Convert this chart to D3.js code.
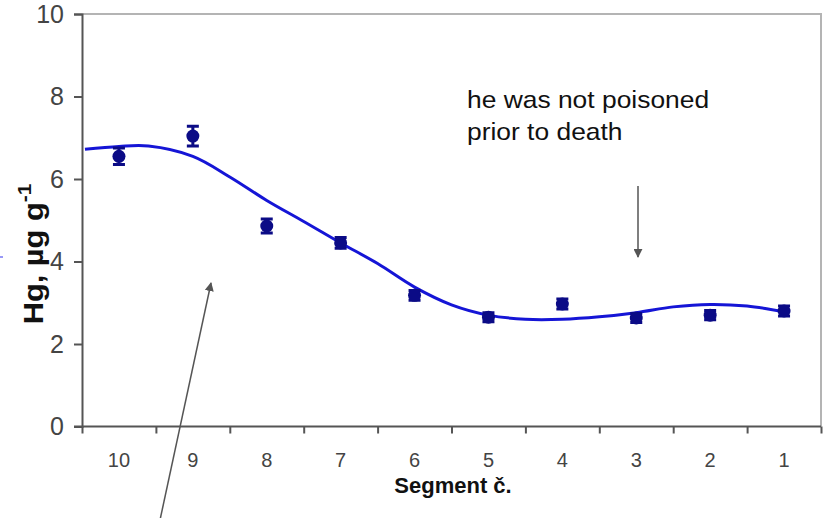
<!DOCTYPE html>
<html>
<head>
<meta charset="utf-8">
<script src="https://cdn.jsdelivr.net/npm/d3@7"></script>
<style>
  html, body { margin: 0; padding: 0; background: #fff; }
  svg { display: block; }
  text { font-family: "Liberation Sans", Arial, sans-serif; }
</style>
</head>
<body>
<svg id="chart" width="826" height="518"></svg>
<script>
// Hair segments, oldest (10) to most recent (1)
const segments = [10, 9, 8, 7, 6, 5, 4, 3, 2, 1];
// Mercury content per segment, µg/g
const hgValues = [6.55, 7.04, 4.86, 4.45, 3.18, 2.65, 2.97, 2.63, 2.70, 2.80];
// Measurement uncertainty (±)
const hgErrors = [0.20, 0.24, 0.17, 0.13, 0.12, 0.11, 0.12, 0.11, 0.11, 0.12];
// Fitted trend: segment position and Hg value
const trendPos = [10.46, 10, 9.6, 9, 8.5, 8, 7.5, 7, 6.5, 6, 5.5, 5, 4.5, 4, 3.5, 3, 2.5, 2, 1.5, 1];
const trendVal = [6.72, 6.79, 6.80, 6.55, 6.05, 5.48, 4.97, 4.45, 3.95, 3.38, 2.95, 2.70, 2.60, 2.60, 2.66, 2.76, 2.90, 2.96, 2.92, 2.78];
const yTicks = [0, 2, 4, 6, 8, 10];

const svg = d3.select("#chart");
const plotL = 82, plotR = 821, plotT = 14, plotB = 426.5;

const x = d3.scaleLinear().domain([10.5, 0.5]).range([plotL, plotR]);
const y = d3.scaleLinear().domain([0, 10]).range([plotB, plotT]);

// Plot frame (top and right edges)
svg.append("path")
  .attr("d", `M${plotL},${plotT}H${plotR}V${plotB}`)
  .attr("fill", "none").attr("stroke", "#b4b4b4").attr("stroke-width", 2);

// Y axis
const yAxis = svg.append("g").attr("transform", `translate(${plotL},0)`)
  .call(d3.axisLeft(y).tickValues(yTicks).tickSize(8).tickPadding(10).tickFormat(d3.format("d")));
yAxis.select(".domain").attr("stroke", "#555").attr("stroke-width", 2);
yAxis.selectAll(".tick line").attr("stroke", "#555").attr("stroke-width", 2);
yAxis.selectAll(".tick text").attr("font-size", 25).attr("fill", "#444")
  .attr("font-family", "'Liberation Sans', Arial, sans-serif");

// X axis: ticks at segment boundaries, labels at segment centres
const boundaries = d3.range(10.5, 0, -1);
const xAxis = svg.append("g").attr("transform", `translate(0,${plotB})`)
  .call(d3.axisBottom(x).tickValues(boundaries).tickSize(7).tickFormat(""));
xAxis.select(".domain").attr("stroke", "#555").attr("stroke-width", 2)
  .attr("d", `M${plotL - 8},0H${plotR}`);
xAxis.selectAll(".tick line").attr("stroke", "#555").attr("stroke-width", 2);

svg.append("g").selectAll("text").data(segments).join("text")
  .attr("x", d => x(d)).attr("y", 467)
  .attr("text-anchor", "middle")
  .attr("font-size", 20).attr("fill", "#444")
  .text(d => d);

// Axis titles
svg.append("text")
  .attr("x", 453).attr("y", 493)
  .attr("text-anchor", "middle").attr("font-size", 22).attr("font-weight", "bold").attr("fill", "#111")
  .text("Segment č.");

const yTitle = svg.append("text")
  .attr("transform", "translate(43,254) rotate(-90) scale(1.1,1)")
  .attr("text-anchor", "middle").attr("font-size", 28).attr("font-weight", "bold").attr("fill", "#111");
yTitle.append("tspan").text("Hg, µg g");
yTitle.append("tspan").attr("dy", -12).attr("font-size", 19).text("-1");

// Trend curve
const trend = trendPos.map((p, i) => [p, trendVal[i]]);
svg.append("path")
  .datum(trend)
  .attr("fill", "none").attr("stroke", "#1515d6").attr("stroke-width", 3)
  .attr("d", d3.line().x(d => x(d[0])).y(d => y(d[1])).curve(d3.curveCatmullRom));

// Measurements with error bars
const pts = segments.map((s, i) => ({ s, v: hgValues[i], e: hgErrors[i] }));
const g = svg.append("g").selectAll("g").data(pts).join("g")
  .attr("transform", d => `translate(${x(d.s)},0)`);
g.append("path")
  .attr("d", d => `M-6,${y(d.v + d.e)}H6M0,${y(d.v + d.e)}V${y(d.v - d.e)}M-6,${y(d.v - d.e)}H6`)
  .attr("stroke", "#0b0b86").attr("stroke-width", 3).attr("fill", "none");
g.append("circle")
  .attr("cy", d => y(d.v)).attr("r", 6.5)
  .attr("fill", "#0b0b86");

// Annotation
const note = svg.append("text").attr("font-size", 24).attr("fill", "#111")
  .attr("transform", "translate(467,0) scale(1.1,1)");
note.append("tspan").attr("x", 0).attr("y", 108).text("he was not poisoned");
note.append("tspan").attr("x", 0).attr("y", 140).text("prior to death");

// Arrows
const defs = svg.append("defs");
defs.append("marker").attr("id", "ah")
  .attr("viewBox", "0 0 10 10").attr("refX", 9).attr("refY", 5)
  .attr("markerWidth", 6).attr("markerHeight", 6).attr("orient", "auto")
  .append("path").attr("d", "M0,0L10,5L0,10Z").attr("fill", "#555");

svg.append("line").attr("x1", 160).attr("y1", 520).attr("x2", 211).attr("y2", 283)
  .attr("stroke", "#555").attr("stroke-width", 1.5).attr("marker-end", "url(#ah)");
svg.append("line").attr("x1", 638).attr("y1", 186).attr("x2", 638).attr("y2", 257)
  .attr("stroke", "#555").attr("stroke-width", 1.5).attr("marker-end", "url(#ah)");

// Small stray mark at the left edge
svg.append("line").attr("x1", 0).attr("y1", 257).attr("x2", 3).attr("y2", 257)
  .attr("stroke", "#3333ee").attr("stroke-width", 1);
</script>
</body>
</html>
